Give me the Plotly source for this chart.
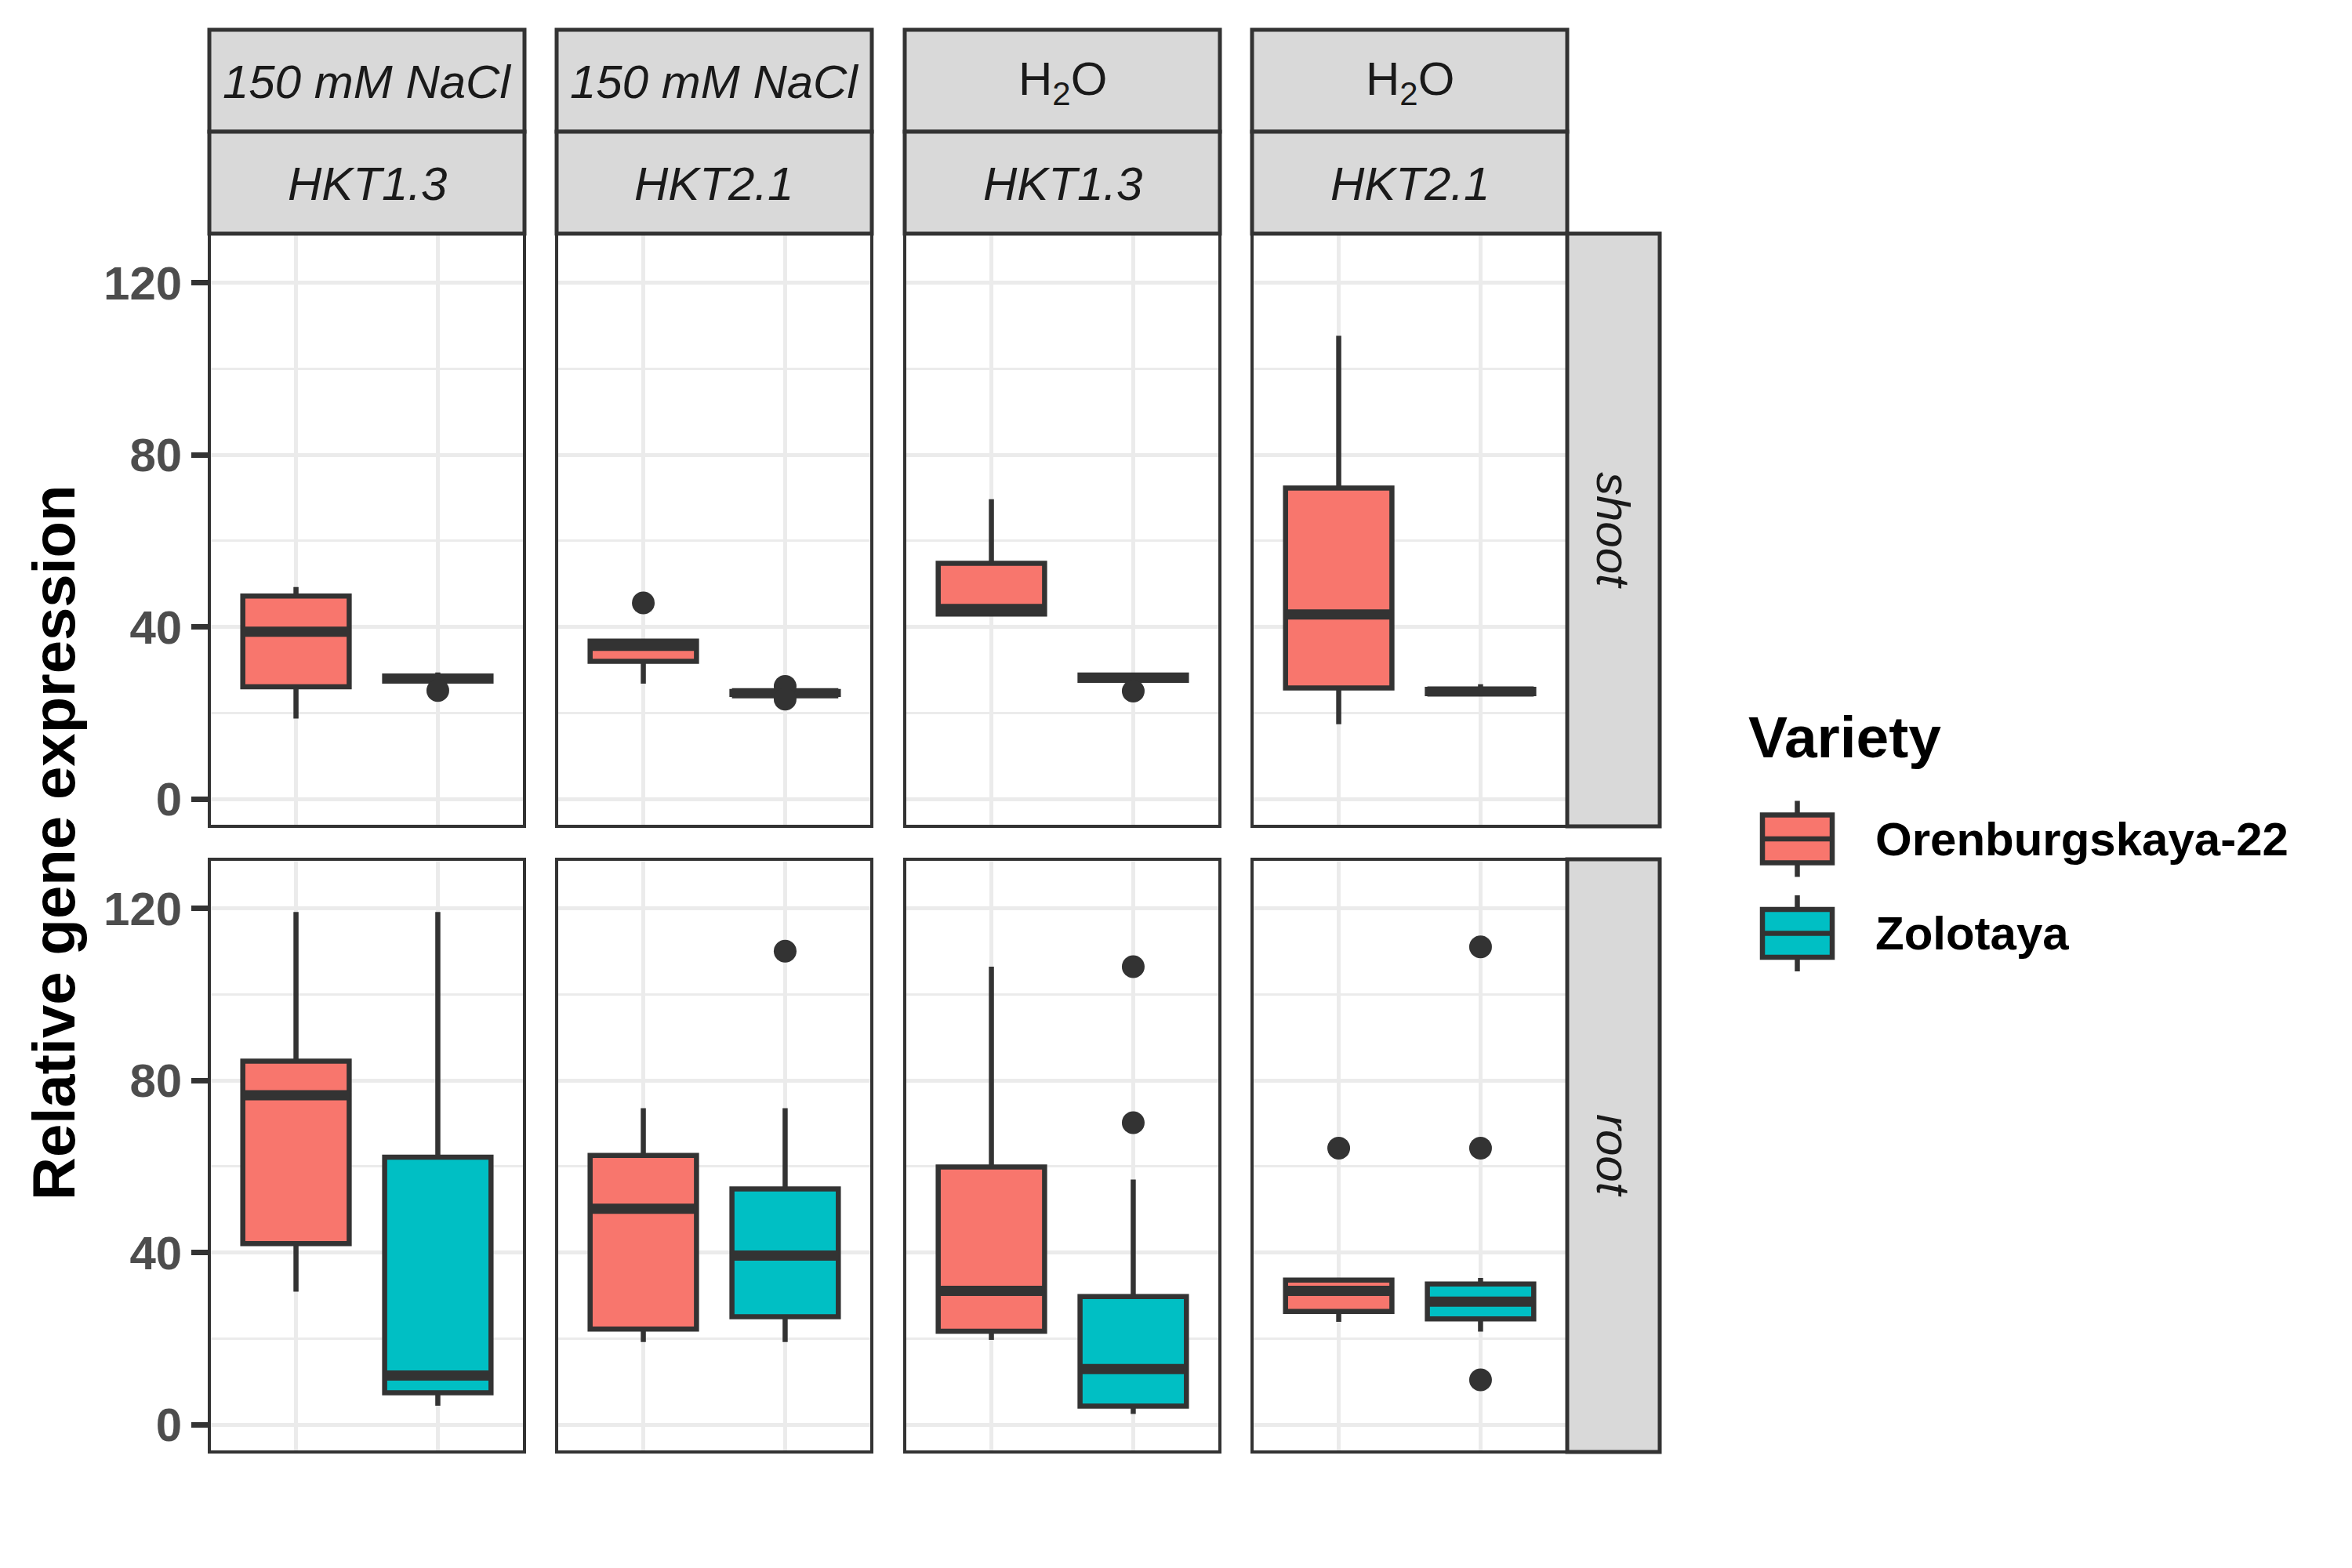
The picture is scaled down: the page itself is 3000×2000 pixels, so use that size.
import plotly.graph_objects as go

# ---------------- data ----------------
conditions = ["150 mM NaCl", "150 mM NaCl", "H<sub>2</sub>O", "H<sub>2</sub>O"]
genes = ["HKT1.3", "HKT2.1", "HKT1.3", "HKT2.1"]
tissues = ["shoot", "root"]
varieties = ["Orenburgskaya-22", "Zolotaya"]
variety_colors = ["#F8766D", "#00BFC4"]

# one entry per box: tissue index, panel index, variety index
box_tissue  = [0, 0, 0, 0, 0, 0, 0, 0, 1, 1, 1, 1, 1, 1, 1, 1]
box_panel   = [0, 0, 1, 1, 2, 2, 3, 3, 0, 0, 1, 1, 2, 2, 3, 3]
box_variety = [0, 1, 0, 1, 0, 1, 0, 1, 0, 1, 0, 1, 0, 1, 0, 1]
box_lower   = [18.7, 27.0, 26.8, 24.0, 43.0, 27.4, 17.4, 24.3, 30.9, 4.4, 19.2, 19.2, 19.7, 2.5, 23.9, 21.6]
box_q1      = [26.1, 27.4, 32.0, 24.3, 43.0, 27.6, 25.8, 24.5, 42.1, 7.4, 22.2, 25.1, 21.7, 4.3, 26.3, 24.6]
box_median  = [38.9, 28.0, 35.6, 24.6, 44.2, 28.2, 42.9, 25.0, 76.6, 11.4, 50.2, 39.3, 31.1, 12.9, 31.1, 28.6]
box_q3      = [47.2, 28.6, 36.7, 25.0, 54.8, 28.8, 72.3, 25.5, 84.5, 62.2, 62.6, 54.8, 59.9, 29.8, 33.6, 32.7]
box_upper   = [49.3, 29.4, 36.7, 25.5, 69.7, 29.0, 107.7, 26.7, 119.2, 119.2, 73.6, 73.6, 106.5, 57.0, 33.6, 34.1]

# outliers
out_tissue  = [0, 0, 0, 0, 0, 1, 1, 1, 1, 1, 1, 1]
out_panel   = [0, 1, 1, 1, 2, 1, 2, 2, 3, 3, 3, 3]
out_variety = [1, 0, 1, 1, 1, 1, 1, 1, 0, 1, 1, 1]
out_value   = [25.2, 45.6, 26.2, 23.2, 25.1, 110.1, 106.5, 70.2, 64.3, 111.1, 64.3, 10.4]

y_ticks = [0, 40, 80, 120]
y_minor = [20, 60, 100]
y_range = [-6.0, 131.1]

# ---------------- layout geometry (pixels) ----------------
W, H = 3000, 2000
col_left = [269, 712, 1156, 1599]
col_w = 398
row_top = [300, 1098]
row_h = 752
strip_tops = [38, 168]
strip_h = 130
rstrip_w = 118

FONT = "Liberation Sans, Arial, sans-serif"
DARK = "#333333"
BOX_W = 0.75


def px(x):
    return x / W


def py(y):
    return 1 - y / H


fig = go.Figure()

layout = dict(
    width=W, height=H,
    margin=dict(l=0, r=0, t=0, b=0),
    paper_bgcolor="white", plot_bgcolor="white",
    showlegend=False, boxmode="overlay",
    font=dict(family=FONT),
)

def axis_id(r, c):
    return r * 4 + c + 1

for r in range(2):
    for c in range(4):
        n = axis_id(r, c)
        xs = "" if n == 1 else str(n)
        layout["xaxis" + xs] = dict(
            domain=[px(col_left[c]), px(col_left[c] + col_w)],
            anchor="y" + xs, range=[0.4, 2.6],
            tickvals=[1, 2], showticklabels=False, ticks="",
            showgrid=True, gridcolor="#EBEBEB", gridwidth=5,
            zeroline=False, showline=True, mirror=True,
            linecolor=DARK, linewidth=3.6,
        )
        ya = dict(
            domain=[py(row_top[r] + row_h), py(row_top[r])],
            anchor="x" + xs, range=y_range,
            tickvals=y_ticks, ticktext=[str(v) for v in y_ticks],
            showgrid=True, gridcolor="#EBEBEB", gridwidth=5,
            minor=dict(tickvals=y_minor, showgrid=True, gridcolor="#EBEBEB",
                       gridwidth=2.5, ticks=""),
            zeroline=False, showline=True, mirror=True,
            linecolor=DARK, linewidth=3.6,
        )
        if c == 0:
            ya.update(ticks="outside", ticklen=21, tickwidth=7, tickcolor=DARK,
                      showticklabels=True,
                      tickfont=dict(family=FONT, size=60, color="#4D4D4D", weight="bold"))
        else:
            ya.update(ticks="", showticklabels=False)
        layout["yaxis" + xs] = ya

# boxes
for i in range(len(box_q1)):
    n = axis_id(box_tissue[i], box_panel[i])
    xs = "" if n == 1 else str(n)
    pos = box_variety[i] + 1
    fig.add_trace(go.Box(
        x=[pos], q1=[box_q1[i]], median=[box_median[i]], q3=[box_q3[i]],
        lowerfence=[box_lower[i]], upperfence=[box_upper[i]],
        width=BOX_W, whiskerwidth=0, boxpoints=False,
        fillcolor=variety_colors[box_variety[i]],
        line=dict(color=DARK, width=6.5),
        xaxis="x" + xs, yaxis="y" + xs, hoverinfo="skip",
    ))
    # thicker median line (ggplot fatten)
    fig.add_trace(go.Scatter(
        x=[pos - BOX_W / 2, pos + BOX_W / 2], y=[box_median[i], box_median[i]],
        mode="lines", line=dict(color=DARK, width=13),
        xaxis="x" + xs, yaxis="y" + xs, hoverinfo="skip",
    ))

# outliers
for i in range(len(out_value)):
    n = axis_id(out_tissue[i], out_panel[i])
    xs = "" if n == 1 else str(n)
    fig.add_trace(go.Scatter(
        x=[out_variety[i] + 1], y=[out_value[i]], mode="markers",
        marker=dict(size=29, color=DARK, line=dict(width=0)),
        xaxis="x" + xs, yaxis="y" + xs, hoverinfo="skip",
    ))

shapes = []
annotations = []

# top strips
for c in range(4):
    x0, x1 = col_left[c] - 2, col_left[c] + col_w + 2
    for k, txt in enumerate([conditions[c], genes[c]]):
        y0 = strip_tops[k]
        shapes.append(dict(type="rect", xref="paper", yref="paper",
                           x0=px(x0), x1=px(x1), y0=py(y0 + strip_h), y1=py(y0),
                           fillcolor="#D9D9D9", line=dict(color=DARK, width=5),
                           layer="above"))
        italic = not txt.startswith("H<sub>")
        annotations.append(dict(
            text=txt, xref="paper", yref="paper",
            x=px((x0 + x1) / 2), y=py(y0 + strip_h / 2 + 2),
            showarrow=False, xanchor="center", yanchor="middle",
            font=dict(family=FONT, size=60, color="#1A1A1A",
                      style="italic" if italic else "normal"),
        ))

# right strips
rx0 = col_left[3] + col_w + 2
for r in range(2):
    shapes.append(dict(type="rect", xref="paper", yref="paper",
                       x0=px(rx0), x1=px(rx0 + rstrip_w),
                       y0=py(row_top[r] + row_h + 2), y1=py(row_top[r] - 2),
                       fillcolor="#D9D9D9", line=dict(color=DARK, width=5),
                       layer="above"))
    annotations.append(dict(
        text=tissues[r], xref="paper", yref="paper",
        x=px(rx0 + rstrip_w / 2), y=py(row_top[r] + row_h / 2),
        showarrow=False, textangle=90, xanchor="center", yanchor="middle",
        font=dict(family=FONT, size=60, color="#1A1A1A", style="italic"),
    ))

# y axis title
annotations.append(dict(
    text="Relative gene expression", xref="paper", yref="paper",
    x=px(68), y=py((row_top[0] + row_top[1] + row_h) / 2),
    showarrow=False, textangle=-90, xanchor="center", yanchor="middle",
    font=dict(family=FONT, size=76, color="black", weight="bold"),
))

# legend (drawn manually to match ggplot key size)
annotations.append(dict(
    text="Variety", xref="paper", yref="paper",
    x=px(2228), y=py(940), showarrow=False, xanchor="left", yanchor="middle",
    font=dict(family=FONT, size=75, color="black", weight="bold"),
))
key_tops = [1039.5, 1160]
key_h = 61
for k in range(2):
    t = key_tops[k]
    cx = 2292.5
    shapes.append(dict(type="line", xref="paper", yref="paper",
                       x0=px(cx), x1=px(cx), y0=py(t - 18), y1=py(t + key_h + 18),
                       line=dict(color=DARK, width=6.5)))
    shapes.append(dict(type="rect", xref="paper", yref="paper",
                       x0=px(2248), x1=px(2337), y0=py(t + key_h), y1=py(t),
                       fillcolor=variety_colors[k], line=dict(color=DARK, width=6.5)))
    shapes.append(dict(type="line", xref="paper", yref="paper",
                       x0=px(2248), x1=px(2337), y0=py(t + key_h / 2), y1=py(t + key_h / 2),
                       line=dict(color=DARK, width=6.5)))
    annotations.append(dict(
        text=varieties[k], xref="paper", yref="paper",
        x=px(2390), y=py(t + key_h / 2), showarrow=False,
        xanchor="left", yanchor="middle",
        font=dict(family=FONT, size=60, color="black", weight="bold"),
    ))

layout["shapes"] = shapes
layout["annotations"] = annotations
fig.update_layout(**layout)

fig.write_html("out.html",
               config={"displayModeBar": False},
               post_script="document.body.style.margin='0px';")
